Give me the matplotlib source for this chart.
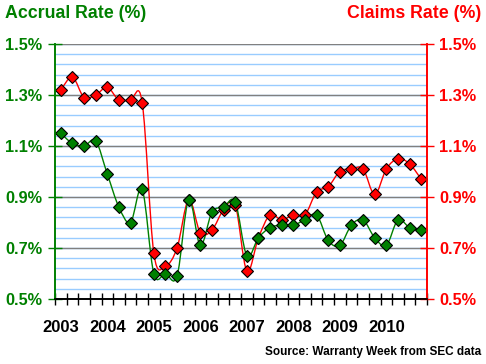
import numpy as np
import matplotlib
matplotlib.use("Agg")
import matplotlib.pyplot as plt
from matplotlib.path import Path
from matplotlib.patches import PathPatch

# quarterly data, 2003 Q1 .. 2010 Q4
years = ["2003", "2004", "2005", "2006", "2007", "2008", "2009", "2010"]
accrual = [1.15, 1.11, 1.10, 1.12, 0.99, 0.86, 0.80, 0.93,
           0.60, 0.60, 0.59, 0.89, 0.71, 0.84, 0.86, 0.88,
           0.67, 0.74, 0.78, 0.79, 0.79, 0.81, 0.83, 0.73,
           0.71, 0.79, 0.81, 0.74, 0.71, 0.81, 0.78, 0.77]
claims = [1.32, 1.37, 1.29, 1.30, 1.33, 1.28, 1.28, 1.27,
          0.68, 0.63, 0.70, 0.89, 0.76, 0.77, 0.85, 0.87,
          0.61, 0.74, 0.83, 0.81, 0.83, 0.83, 0.92, 0.94,
          1.00, 1.01, 1.01, 0.91, 1.01, 1.05, 1.03, 0.97]

GREEN = "#008000"
RED = "#FF0000"
plt.rcParams["font.family"] = ["Liberation Sans", "DejaVu Sans"]


def smooth_path(xs, ys):
    """Catmull-Rom style smoothed line (like Excel's 'smoothed line')."""
    pts = np.column_stack([xs, ys]).astype(float)
    verts = [pts[0]]
    codes = [Path.MOVETO]
    n = len(pts)
    for i in range(n - 1):
        p0 = pts[max(i - 1, 0)]
        p1, p2 = pts[i], pts[i + 1]
        p3 = pts[min(i + 2, n - 1)]
        verts += [p1 + (p2 - p0) / 6, p2 - (p3 - p1) / 6, p2]
        codes += [Path.CURVE4] * 3
    return Path(verts, codes)


fig = plt.figure(figsize=(4.86, 3.64), dpi=100)
ax = fig.add_axes([55 / 486, 65 / 364, 372 / 486, 255 / 364])
ax2 = ax.twinx()

x = np.arange(len(accrual))
ax.set_xlim(-0.5, len(accrual) - 0.5)
ax.set_ylim(0.5, 1.5)
ax2.set_ylim(0.5, 1.5)

# gridlines
for v in np.arange(0.5, 1.5001, 0.04):
    ax.axhline(v, color="#99CCFF", lw=1, zorder=0)
for v in np.arange(0.5, 1.5001, 0.2):
    ax.axhline(v, color="#808080", lw=1, zorder=1)

for ys, col in [(claims, RED), (accrual, GREEN)]:
    ax.add_patch(PathPatch(smooth_path(x, ys), fill=False, edgecolor=col,
                           lw=1.0, zorder=3))
    ax.plot(x, ys, ls="none", marker="D", ms=6.3, mfc=col, mec="black",
            mew=0.8, zorder=4)

ticks = np.arange(0.5, 1.5001, 0.2)
ax.set_yticks(ticks)
ax.set_yticklabels([f"{t:.1f}%" for t in ticks])
ax2.set_yticks(ticks)
ax2.set_yticklabels([f"{t:.1f}%" for t in ticks])

ax.set_xticks(np.arange(-0.5, len(accrual), 1), minor=True)
ax.set_xticks(np.arange(0, len(accrual), 4))
ax.set_xticklabels(years)
ax.tick_params(axis="x", which="major", length=0, pad=15,
               labelsize=12)
ax.tick_params(axis="x", which="minor", direction="inout", length=8,
               width=1, color="black")
for lab in ax.get_xticklabels():
    lab.set_fontweight("bold")

ax.tick_params(axis="y", direction="inout", length=10, width=1,
               color=GREEN, labelcolor=GREEN, labelsize=11.7, pad=4)
ax2.tick_params(axis="y", direction="inout", length=10, width=1,
                color=RED, labelcolor=RED, labelsize=11.7, pad=4)
for lab in ax.get_yticklabels() + ax2.get_yticklabels():
    lab.set_fontweight("bold")

for a in (ax, ax2):
    a.spines["top"].set_visible(False)
    a.spines["left"].set_color(GREEN)
    a.spines["right"].set_color(RED)
    a.spines["bottom"].set_color("black")
    for s in a.spines.values():
        s.set_linewidth(1.2)

fig.text(5 / 486, 1 - 14 / 364, "Accrual Rate (%)", color=GREEN,
         fontsize=12.8, fontweight="bold", ha="left", va="center")
fig.text(481 / 486, 1 - 14 / 364, "Claims Rate (%)", color=RED,
         fontsize=12.8, fontweight="bold", ha="right", va="center")
fig.text(481 / 486, 1 - 352 / 364, "Source: Warranty Week from SEC data",
         color="black", fontsize=8.5, fontweight="bold", ha="right",
         va="center")

fig.savefig("out.png", dpi=100)
